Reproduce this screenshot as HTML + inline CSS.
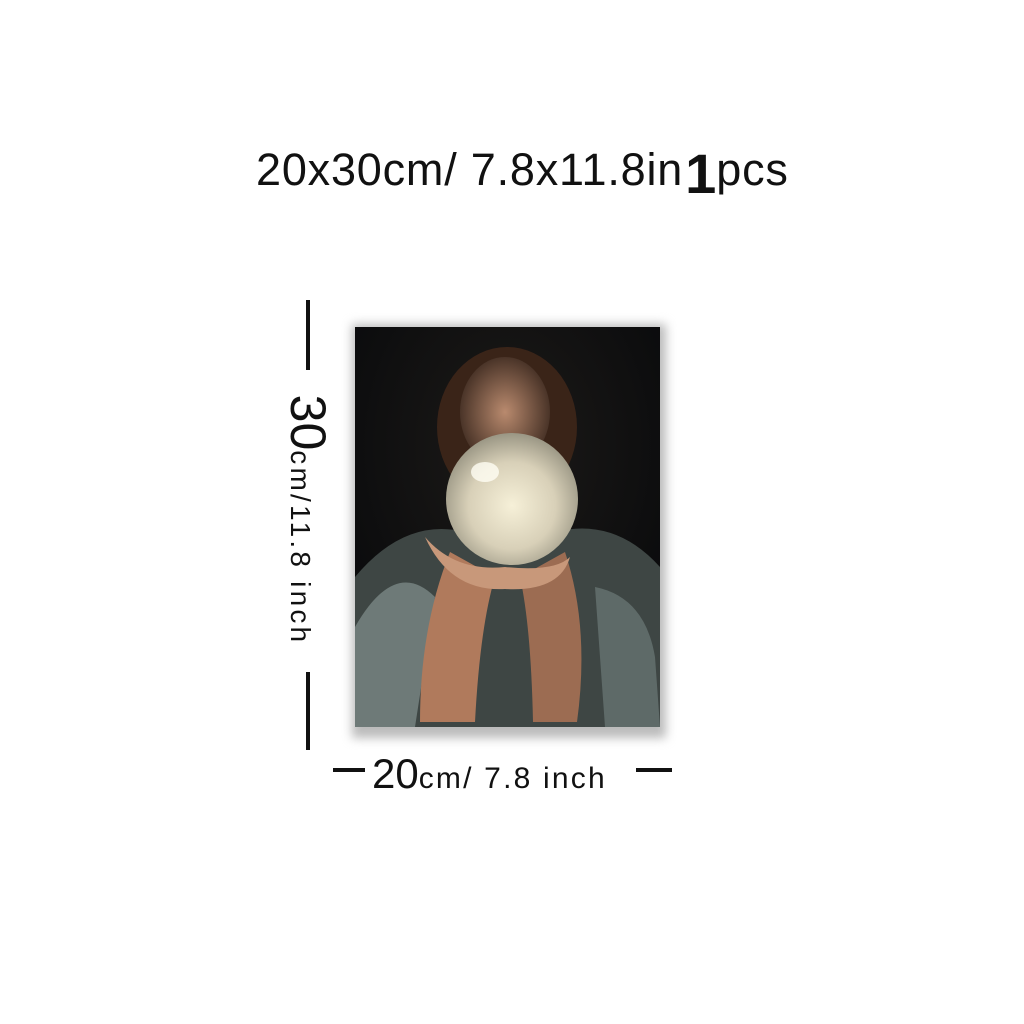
<!DOCTYPE html>
<html><head><meta charset="utf-8"><style>
html,body{margin:0;padding:0;background:#fff;}
#root{position:relative;width:1024px;height:1024px;overflow:hidden;background:#fff;font-family:"Liberation Sans",sans-serif;color:#111;}
.abs{position:absolute;}
</style></head><body>
<div id="root">
  <div class="abs" style="left:256px;top:136px;width:560px;height:60px;font-size:45px;white-space:nowrap;letter-spacing:0.8px;line-height:60px;">20x30cm/ 7.8x11.8in<span style="font-size:56px;font-weight:bold;position:relative;top:8px;letter-spacing:0;margin-left:2px;">1</span>pcs</div>

  <div class="abs" style="left:352px;top:324px;width:314px;height:414px;background:#bbb;filter:blur(5px);"></div>
  <svg class="abs" style="left:355px;top:327px" width="305" height="400" viewBox="0 0 305 400">
    <defs>
      <radialGradient id="bg" cx="50%" cy="30%" r="70%"><stop offset="0" stop-color="#1c1a18"/><stop offset="1" stop-color="#08090b"/></radialGradient>
      <radialGradient id="orb" cx="50%" cy="55%" r="55%"><stop offset="0" stop-color="#f6f0d8"/><stop offset="0.6" stop-color="#d8d0b8"/><stop offset="1" stop-color="#9a9684"/></radialGradient>
      <radialGradient id="face" cx="50%" cy="50%" r="50%"><stop offset="0" stop-color="#b98a6e"/><stop offset="1" stop-color="#4a3428"/></radialGradient>
    </defs>
    <rect width="305" height="400" fill="url(#bg)"/>
    <ellipse cx="152" cy="100" rx="70" ry="80" fill="#3a2418"/>
    <ellipse cx="150" cy="85" rx="45" ry="55" fill="url(#face)"/>
    <path d="M0 250 Q50 190 110 205 L200 205 Q260 190 305 240 L305 400 L0 400 Z" fill="#3e4644"/>
    <path d="M0 300 Q40 230 80 270 L60 400 L0 400Z" fill="#6e7a78"/>
    <path d="M240 260 Q290 270 300 330 L305 400 L250 400Z" fill="#5e6a68"/>
    <path d="M95 225 Q65 300 65 395 L120 395 Q125 300 140 250Z" fill="#b07a5c"/>
    <path d="M210 225 Q235 300 222 395 L178 395 Q176 300 165 250Z" fill="#9c6c52"/>
    <path d="M70 210 Q95 265 150 262 Q205 265 215 230 Q200 245 150 240 Q100 245 70 210Z" fill="#c8987a"/>
    <circle cx="157" cy="172" r="66" fill="url(#orb)"/>
    <ellipse cx="130" cy="145" rx="14" ry="10" fill="#fffef4" opacity="0.8"/>
  </svg>

  <div class="abs" style="left:306px;top:300px;width:4px;height:70px;background:#111;"></div>
  <div class="abs" style="left:306px;top:672px;width:4px;height:78px;background:#111;"></div>
  <div class="abs" style="left:168px;top:500px;width:280px;height:40px;transform:rotate(90deg);transform-origin:center;white-space:nowrap;line-height:40px;font-size:28px;letter-spacing:3.2px;text-align:center;">
    <span style="font-size:50px;letter-spacing:0;">30</span>cm/11.8 inch</div>

  <div class="abs" style="left:333px;top:768px;width:32px;height:4px;background:#111;"></div>
  <div class="abs" style="left:636px;top:768px;width:36px;height:4px;background:#111;"></div>
  <div class="abs" style="left:372px;top:752px;width:260px;height:44px;white-space:nowrap;font-size:30px;letter-spacing:2.2px;line-height:44px;">
    <span style="font-size:42px;letter-spacing:0;">20</span>cm/ 7.8 inch</div>
</div>
</body></html>
